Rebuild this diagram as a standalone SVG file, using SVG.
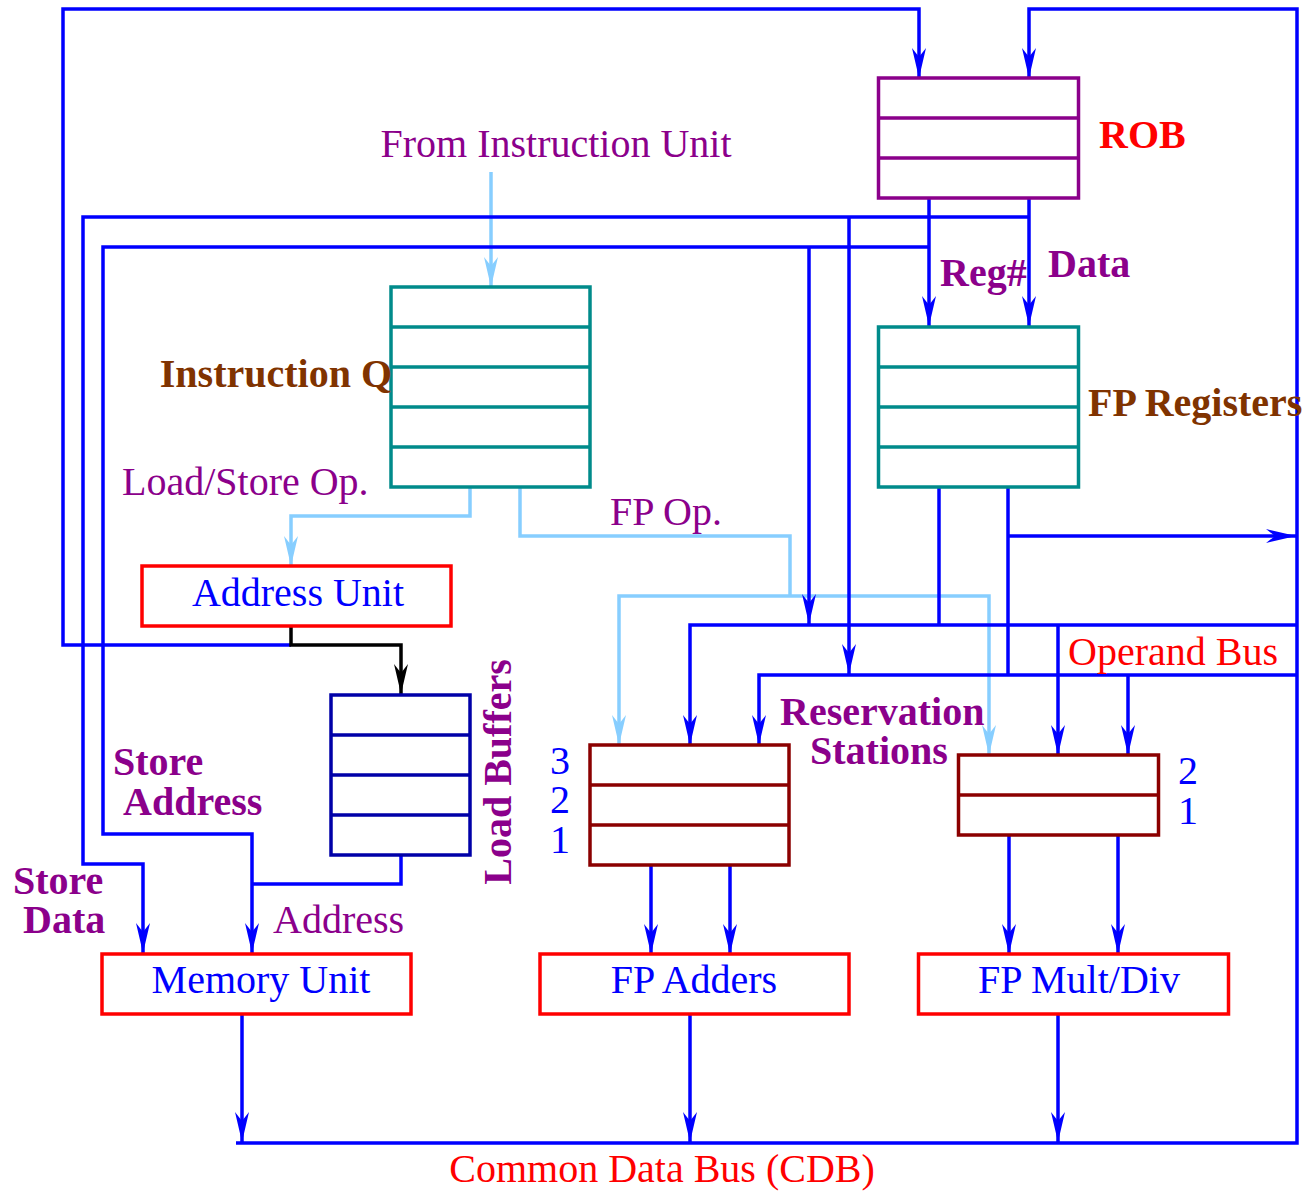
<svg xmlns="http://www.w3.org/2000/svg" width="1309" height="1191" viewBox="0 0 1309 1191">
<style>
.w{fill:none;stroke-width:3.5;stroke-linejoin:miter}
.b{stroke:#0000FF}
.lb{stroke:#87CEFF}
.k{stroke:#000000}
.box{fill:#FFFFFF;stroke-width:3.5}
.t{font-family:"Liberation Serif","Times New Roman",serif;font-size:40px}
.bd{font-weight:bold}
.pu{fill:#8B008B}
.br{fill:#803300}
.rd{fill:#FF0000}
.bl{fill:#0000FF}
</style>
<defs>
<marker id="ab" markerUnits="userSpaceOnUse" markerWidth="32" markerHeight="16" refX="30" refY="8" orient="auto" viewBox="0 0 32 16"><path d="M30,8 L0,1 L9,8 L0,15 Z" fill="#0000FF"/></marker>
<marker id="al" markerUnits="userSpaceOnUse" markerWidth="32" markerHeight="16" refX="30" refY="8" orient="auto" viewBox="0 0 32 16"><path d="M30,8 L0,1 L9,8 L0,15 Z" fill="#87CEFF"/></marker>
<marker id="ak" markerUnits="userSpaceOnUse" markerWidth="32" markerHeight="16" refX="30" refY="8" orient="auto" viewBox="0 0 32 16"><path d="M30,8 L0,1 L9,8 L0,15 Z" fill="#000000"/></marker>
</defs>
<rect width="1309" height="1191" fill="#FFFFFF"/>
<g id="connectors">
<g class="w lb">
<path d="M491,172 V287" marker-end="url(#al)"/>
<path d="M470,487 V516 H291 V566" marker-end="url(#al)"/>
<path d="M520,487 V536 H790 V596"/>
<path d="M790,596 H619 V745" marker-end="url(#al)"/>
<path d="M790,596 H989 V755" marker-end="url(#al)"/>
</g>
<g class="w b">
<path d="M291,645 H63 V9 H919 V78" marker-end="url(#ab)"/>
<path d="M236,1143 H1297 V9 H1029 V78" marker-end="url(#ab)"/>
<path d="M929,198 V326" marker-end="url(#ab)"/>
<path d="M1029,198 V326" marker-end="url(#ab)"/>
<path d="M1029,217 H83 V864 H143 V953" marker-end="url(#ab)"/>
<path d="M929,247 H103 V834 H252 V953" marker-end="url(#ab)"/>
<path d="M401,855 V884 H252"/>
<path d="M849,217 V674" marker-end="url(#ab)"/>
<path d="M809,247 V624" marker-end="url(#ab)"/>
<path d="M939,487 V625"/>
<path d="M1008,487 V675"/>
<path d="M1008,536 H1296" marker-end="url(#ab)"/>
<path d="M1297,625 H690 V745" marker-end="url(#ab)"/>
<path d="M1297,675 H759 V745" marker-end="url(#ab)"/>
<path d="M1058,625 V755" marker-end="url(#ab)"/>
<path d="M1128,675 V755" marker-end="url(#ab)"/>
<path d="M651,865 V954" marker-end="url(#ab)"/>
<path d="M730,865 V954" marker-end="url(#ab)"/>
<path d="M1009,835 V954" marker-end="url(#ab)"/>
<path d="M1118,835 V954" marker-end="url(#ab)"/>
<path d="M242,1014 V1142" marker-end="url(#ab)"/>
<path d="M690,1014 V1142" marker-end="url(#ab)"/>
<path d="M1058,1014 V1142" marker-end="url(#ab)"/>
</g>
<path class="w k" d="M291,626 V645 H401 V694" marker-end="url(#ak)"/>
</g>
<g id="rob">
<rect class="box" x="878.5" y="78" width="200" height="120" stroke="#8B008B"/>
<path d="M878.5,118 H1078.5 M878.5,158 H1078.5" stroke="#8B008B" stroke-width="3.5"/>
<text class="t bd rd" x="1099" y="148">ROB</text>
</g>
<g id="instruction-queue">
<rect class="box" x="391" y="287" width="199" height="200" stroke="#008B8B"/>
<path d="M391,327 H590 M391,367 H590 M391,407 H590 M391,447 H590" stroke="#008B8B" stroke-width="3.5"/>
<text class="t bd br" x="392" y="387" text-anchor="end">Instruction Q</text>
</g>
<g id="fp-registers">
<rect class="box" x="878.5" y="327" width="200" height="160" stroke="#008B8B"/>
<path d="M878.5,367 H1078.5 M878.5,407 H1078.5 M878.5,447 H1078.5" stroke="#008B8B" stroke-width="3.5"/>
<text class="t bd br" x="1088" y="416">FP Registers</text>
</g>
<g id="address-unit">
<rect class="box" x="142" y="566" width="309" height="60" stroke="#FF0000"/>
<text class="t bl" x="298" y="606" text-anchor="middle">Address Unit</text>
</g>
<g id="load-buffers">
<rect class="box" x="331" y="695" width="139" height="160" stroke="#0000A8"/>
<path d="M331,735 H470 M331,775 H470 M331,815 H470" stroke="#0000A8" stroke-width="3.5"/>
<text class="t bd pu" transform="translate(511,772) rotate(-90)" text-anchor="middle">Load Buffers</text>
</g>
<g id="memory-unit">
<rect class="box" x="102" y="954" width="309" height="60" stroke="#FF0000"/>
<text class="t bl" x="261" y="993" text-anchor="middle">Memory Unit</text>
</g>
<g id="rs-adders">
<rect class="box" x="590" y="745" width="199" height="120" stroke="#8B0000"/>
<path d="M590,785 H789 M590,825 H789" stroke="#8B0000" stroke-width="3.5"/>
<text class="t bl" x="560" y="774" text-anchor="middle">3</text>
<text class="t bl" x="560" y="813" text-anchor="middle">2</text>
<text class="t bl" x="560" y="853" text-anchor="middle">1</text>
</g>
<g id="rs-mult">
<rect class="box" x="958.5" y="755" width="200" height="80" stroke="#8B0000"/>
<path d="M958.5,795 H1158.5" stroke="#8B0000" stroke-width="3.5"/>
<text class="t bl" x="1188" y="784" text-anchor="middle">2</text>
<text class="t bl" x="1188" y="824" text-anchor="middle">1</text>
</g>
<g id="fp-adders">
<rect class="box" x="540" y="954" width="309" height="60" stroke="#FF0000"/>
<text class="t bl" x="694" y="993" text-anchor="middle">FP Adders</text>
</g>
<g id="fp-multdiv">
<rect class="box" x="918.5" y="954" width="310" height="60" stroke="#FF0000"/>
<text class="t bl" x="1079" y="993" text-anchor="middle">FP Mult/Div</text>
</g>
<g id="labels">
<text class="t pu" x="556" y="157" text-anchor="middle">From Instruction Unit</text>
<text class="t bd pu" x="940" y="286">Reg#</text>
<text class="t bd pu" x="1048" y="277">Data</text>
<text class="t pu" x="122" y="495">Load/Store Op.</text>
<text class="t pu" x="610" y="525">FP Op.</text>
<text class="t rd" x="1068" y="665">Operand Bus</text>
<text class="t bd pu" x="780" y="725">Reservation</text>
<text class="t bd pu" x="810" y="764">Stations</text>
<text class="t bd pu" x="113" y="775">Store</text>
<text class="t bd pu" x="123" y="815">Address</text>
<text class="t bd pu" x="13" y="894">Store</text>
<text class="t bd pu" x="23" y="933">Data</text>
<text class="t pu" x="273" y="933">Address</text>
<text class="t rd" x="662" y="1182" text-anchor="middle">Common Data Bus (CDB)</text>
</g>
</svg>
